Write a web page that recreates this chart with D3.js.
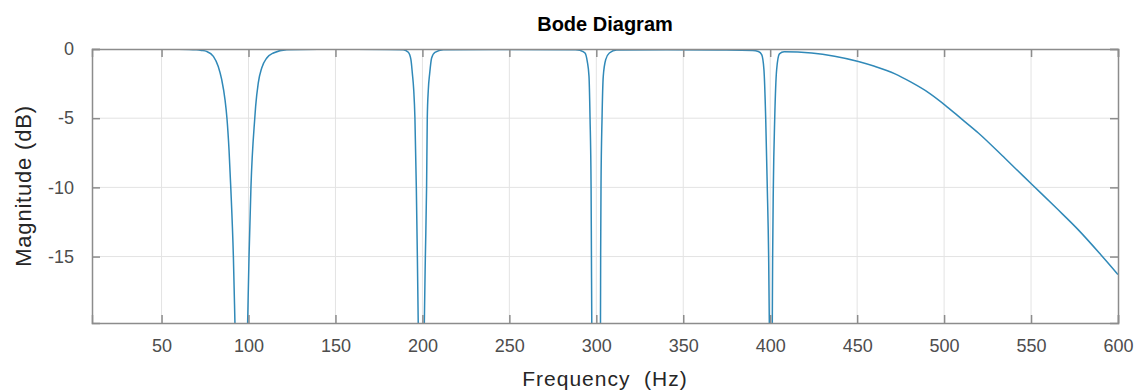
<!DOCTYPE html>
<html>
<head>
<meta charset="utf-8">
<script src="https://cdn.jsdelivr.net/npm/d3@7"></script>
<style>
  body { margin: 0; background: #fff; }
  text { font-family: "Liberation Sans", Arial, sans-serif; }
</style>
</head>
<body>
<div id="bode"></div>
<script>
// frequency points (Hz) and magnitude (dB)
const freq = [
  10, 40, 60, 70, 73, 75.9, 79.8, 82.6, 84.6, 86.5, 87.6, 88.8, 89.8, 91.3, 92.2, 94, 95.9, 97.8,
  99.5, 100.3, 101.4, 103.6, 104.1, 105.6, 107.6, 110.5, 114.3, 122, 140, 180,
  189, 191.9, 193.4, 194.2, 195.0, 195.7, 196.5, 197.1, 197.6, 198.4, 199.3, 200.3,
  201.1, 201.7, 202.4, 202.8, 203.4, 204.2, 205.3, 207.2, 212, 240,
  288, 290.6, 293.5, 294.8, 295.8, 296.4, 297.0, 297.2, 297.4, 298.5, 299.9, 301.3,
  302.4, 302.5, 302.7, 303.3, 304.0, 305.4, 307.5, 311.7, 340, 370,
  390, 393.2, 395.1, 396.4, 397.4, 398.3, 399.1, 399.5, 400.3, 401.2, 401.4, 401.8,
  402.6, 403.7, 405.3, 408, 423.8, 437, 450.7, 460, 471.8, 481, 491, 500.5, 510, 519.7, 535,
  550.7, 565, 577.2, 590, 600
];
const mag = [
  0, 0, -0.02, -0.06, -0.1, -0.17, -0.53, -1.26, -2.22, -3.67, -5, -7.3, -10, -15, -19.8, -30, -42, -30,
  -19.8, -15, -10, -5, -4.15, -2.46, -1.37, -0.65, -0.29, -0.05, -0.02, -0.03,
  -0.06, -0.24, -0.77, -1.74, -2.94, -5, -10, -15, -19.8, -30, -42, -30,
  -19.8, -15, -10, -5, -2.94, -1.74, -0.65, -0.24, -0.06, -0.03,
  -0.05, -0.1, -0.29, -0.9, -1.98, -5, -10, -15, -19.8, -30, -45, -30,
  -19.8, -15, -10, -5, -1.98, -0.77, -0.29, -0.08, -0.05, -0.07,
  -0.1, -0.18, -0.41, -1.5, -4.95, -9.9, -15, -19.8, -40, -19.8, -15, -10,
  -5, -1.5, -0.35, -0.2, -0.29, -0.52, -0.9, -1.25, -1.8, -2.4, -3.15, -4.05, -5.05, -6.07, -7.9,
  -9.81, -11.55, -13.07, -14.85, -16.3
];
const xTicks = [50, 100, 150, 200, 250, 300, 350, 400, 450, 500, 550, 600];
const yTicks = [0, -5, -10, -15];

const svgWidth = 1144;
const svgHeight = 392;
const margin = { top: 49, right: 26, bottom: 69, left: 92 };
const width = svgWidth - margin.left - margin.right;
const height = svgHeight - margin.top - margin.bottom;
const axisColor = '#8c8c8c';
const gridColor = '#e3e3e3';
const tickLen = 8;

const svg = d3.select('#bode').append('svg')
  .attr('width', svgWidth)
  .attr('height', svgHeight);

const xScale = d3.scaleLinear().domain([10, 600]).range([0, width]);
const yScale = d3.scaleLinear().domain([-19.8, 0]).range([height, 0]);

const chart = svg.append('g')
  .attr('transform', 'translate(' + margin.left + ',' + margin.top + ')');

// grid
chart.append('g').selectAll('line')
  .data(xTicks.filter(d => d < 600))
  .enter().append('line')
  .attr('x1', d => xScale(d)).attr('x2', d => xScale(d))
  .attr('y1', 0).attr('y2', height)
  .attr('stroke', gridColor);
chart.append('g').selectAll('line')
  .data(yTicks.filter(d => d < 0))
  .enter().append('line')
  .attr('x1', 0).attr('x2', width)
  .attr('y1', d => yScale(d)).attr('y2', d => yScale(d))
  .attr('stroke', gridColor);

// curve
svg.append('defs').append('clipPath').attr('id', 'plotclip')
  .append('rect').attr('width', width).attr('height', height);

const pts = freq.map((f, i) => [f, mag[i]]);
const line = d3.line()
  .x(d => xScale(d[0]))
  .y(d => yScale(d[1]))
  .curve(d3.curveMonotoneX);

chart.append('path')
  .datum(pts)
  .attr('clip-path', 'url(#plotclip)')
  .attr('fill', 'none')
  .attr('stroke', '#3089b8')
  .attr('stroke-width', 1.5)
  .attr('d', line);

// axes (ticks inside on all sides, MATLAB style)
const axisB = d3.axisBottom(xScale).tickValues(xTicks).tickSize(-tickLen).tickPadding(16)
  .tickFormat(d => String(d));
const axisT = d3.axisTop(xScale).tickValues(xTicks).tickSize(-tickLen).tickFormat('');
const axisL = d3.axisLeft(yScale).tickValues(yTicks).tickSize(-tickLen).tickPadding(18)
  .tickFormat(d => String(d));
const axisR = d3.axisRight(yScale).tickValues(yTicks).tickSize(-tickLen).tickFormat('');

function styleAxis(g) {
  g.select('.domain').attr('stroke', axisColor).attr('stroke-width', 1.5);
  g.selectAll('.tick line').attr('stroke', axisColor).attr('stroke-width', 1.5);
  g.selectAll('.tick text').attr('fill', '#4d4d4d').style('font-size', '18px');
}

chart.append('g').attr('transform', 'translate(0,' + height + ')').call(axisB).call(styleAxis);
chart.append('g').call(axisT).call(styleAxis);
chart.append('g').call(axisL).call(styleAxis);
chart.append('g').attr('transform', 'translate(' + width + ',0)').call(axisR).call(styleAxis);

// labels
svg.append('text')
  .attr('x', margin.left + width / 2).attr('y', 31)
  .attr('text-anchor', 'middle')
  .style('font-size', '20px').style('font-weight', 'bold')
  .attr('fill', '#000')
  .text('Bode Diagram');

svg.append('text')
  .attr('x', margin.left + width / 2).attr('y', 386)
  .attr('text-anchor', 'middle')
  .style('font-size', '21px')
  .style('letter-spacing', '1px')
  .attr('fill', '#262626')
  .attr('xml:space', 'preserve')
  .text('Frequency  (Hz)');

svg.append('text')
  .attr('transform', 'translate(31,' + (margin.top + height / 2) + ') rotate(-90)')
  .attr('text-anchor', 'middle')
  .style('font-size', '22px')
  .style('letter-spacing', '0.8px')
  .attr('fill', '#262626')
  .text('Magnitude (dB)');
</script>
</body>
</html>
